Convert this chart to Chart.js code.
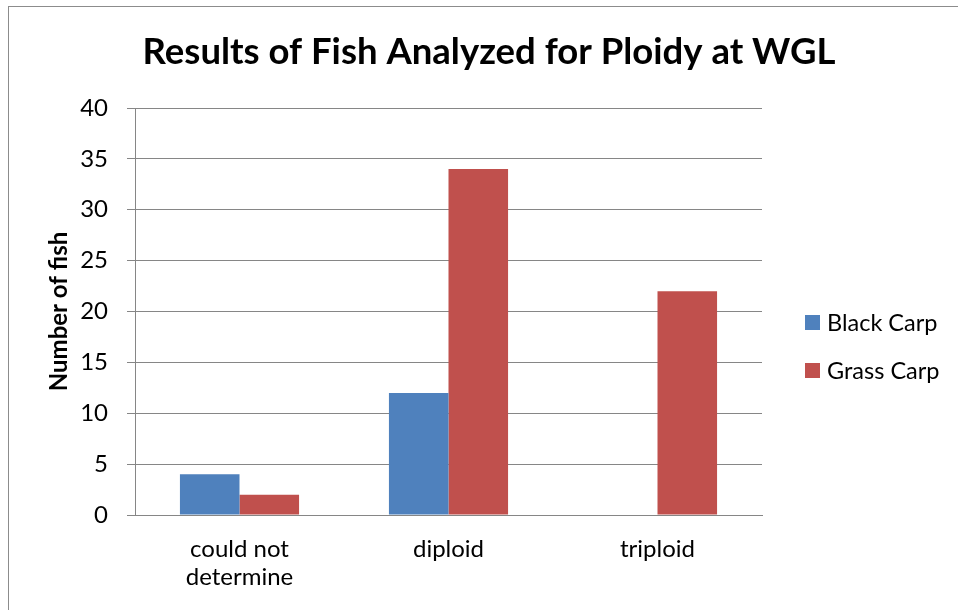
<!DOCTYPE html>
<html>
<head>
<meta charset="utf-8">
<script src="https://cdn.jsdelivr.net/npm/chart.js@4/dist/chart.umd.min.js"></script>
<style>
  html, body { margin: 0; padding: 0; background: #ffffff; }
  #wrap { width: 958px; height: 610px; position: relative; }
</style>
</head>
<body>
<div id="wrap"><canvas id="chart" width="958" height="610"></canvas></div>
<script>
// Ploidy results by outcome
const categories = [["could not", "determine"], "diploid", "triploid"];
const seriesNames = ["Black Carp", "Grass Carp"];
const blackCarp = [4, 12, 0];
const grassCarp = [2, 34, 22];
const seriesColors = ["#4F81BD", "#C0504D"];
const titleText = "Results of Fish Analyzed for Ploidy at WGL";
const yAxisTitle = "Number of fish";
const yMin = 0, yMax = 40, yStep = 5;

const FONT = "Lato, 'Open Sans', sans-serif";
const GRID = "#868686";

// outer frame, chart title and right-hand legend
const decorations = {
  id: "decorations",
  beforeDraw(chart) {
    const ctx = chart.ctx;
    ctx.save();
    ctx.fillStyle = "#ffffff";
    ctx.fillRect(0, 0, chart.width, chart.height);
    ctx.strokeStyle = "#8c8c8c";
    ctx.lineWidth = 1;
    ctx.strokeRect(8.5, 6.5, chart.width, chart.height);
    ctx.restore();
  },
  afterDraw(chart) {
    const ctx = chart.ctx;
    ctx.save();
    ctx.fillStyle = "#000000";
    ctx.textAlign = "center";
    ctx.textBaseline = "alphabetic";
    ctx.font = "bold 36.5px " + FONT;
    ctx.fillText(titleText, 489, 64);

    ctx.textAlign = "left";
    ctx.textBaseline = "middle";
    ctx.font = "23.5px " + FONT;
    chart.data.datasets.forEach((ds, i) => {
      const cy = 322 + i * 48;
      ctx.fillStyle = ds.backgroundColor;
      ctx.fillRect(805, cy - 7, 15, 15);
      ctx.fillStyle = "#000000";
      ctx.fillText(ds.label, 827, cy + 1);
    });
    ctx.restore();
  }
};

new Chart(document.getElementById("chart"), {
  type: "bar",
  data: {
    labels: categories,
    datasets: [
      { label: seriesNames[0], data: blackCarp, backgroundColor: seriesColors[0] },
      { label: seriesNames[1], data: grassCarp, backgroundColor: seriesColors[1] }
    ]
  },
  options: {
    responsive: false,
    animation: false,
    devicePixelRatio: 1,
    layout: { padding: { top: 108, left: 0, right: 196, bottom: 0 } },
    datasets: { bar: { categoryPercentage: 0.57, barPercentage: 1.0 } },
    plugins: {
      legend: { display: false },
      title: { display: false },
      tooltip: { enabled: false }
    },
    scales: {
      x: {
        grid: { display: false, drawTicks: false },
        border: { display: true, color: GRID, width: 1 },
        ticks: { color: "#000000", padding: 20, font: { family: FONT, size: 24, lineHeight: 1.17 } },
        afterFit(scale) { scale.height = 95; }
      },
      y: {
        min: yMin, max: yMax,
        ticks: { stepSize: yStep, color: "#000000", padding: 19, font: { family: FONT, size: 24 } },
        grid: { color: GRID, lineWidth: 1, tickLength: 8, drawTicks: true },
        border: { display: true, color: GRID, width: 1 },
        title: {
          display: true, text: yAxisTitle, color: "#000000",
          font: { family: FONT, size: 24, weight: "bold" },
          padding: { top: 45, bottom: 0 }
        },
        afterFit(scale) { scale.width = 135; }
      }
    }
  },
  plugins: [decorations]
});
</script>
</body>
</html>
